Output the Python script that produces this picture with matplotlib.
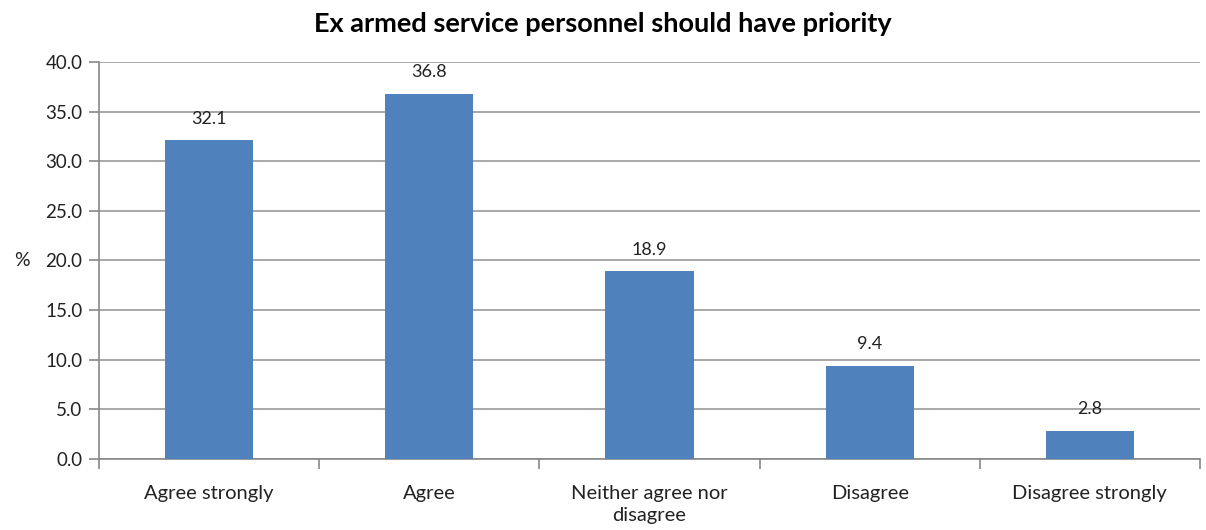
import matplotlib
matplotlib.use("Agg")
import matplotlib.pyplot as plt
import numpy as np

categories = ["Agree strongly", "Agree", "Neither agree nor\ndisagree", "Disagree", "Disagree strongly"]
percent = [32.1, 36.8, 18.9, 9.4, 2.8]
yticks = [0, 5, 10, 15, 20, 25, 30, 35, 40]

plt.rcParams['font.family'] = ['Lato', 'DejaVu Sans']

fig = plt.figure(figsize=(12.06, 5.30), dpi=100)
ax = fig.add_axes([0.0821, 0.134, 0.9129, 0.749])

x = np.arange(len(categories))
ax.bar(x, percent, width=0.4, color='#4F81BD', zorder=3)
for xi, v in zip(x, percent):
    ax.text(xi, v + 1.4, f"{v:.1f}", ha='center', va='bottom', fontsize=13, color='#222222', zorder=4)

ax.set_xlim(-0.5, len(categories) - 0.5)
ax.set_ylim(0, 40)
ax.set_yticks(yticks)
ax.set_yticklabels([f"{t:.1f}" for t in yticks], fontsize=13.5, color='#222222')
ax.yaxis.grid(True, color='#999999', linewidth=1.2, zorder=0)
ax.tick_params(axis='y', length=7, width=1.2, color='#888888', pad=5)

# category labels sit between the boundary ticks
ax.set_xticks(np.arange(-0.5, len(categories), 1.0))
ax.set_xticklabels([])
ax.set_xticks(x, minor=True)
ax.set_xticklabels(categories, minor=True, fontsize=14.5, color='#222222', va='top', linespacing=1.3)
ax.tick_params(axis='x', which='major', length=7, width=1.2, color='#888888')
ax.tick_params(axis='x', which='minor', length=0, pad=19)

for side in ['top', 'right']:
    ax.spines[side].set_visible(False)
for side in ['left', 'bottom']:
    ax.spines[side].set_color('#888888')
    ax.spines[side].set_linewidth(1.2)

ax.set_ylabel('%', rotation=0, fontsize=14, color='#222222', va='center')
ax.yaxis.set_label_coords(-0.07, 0.5)

fig.suptitle('Ex armed service personnel should have priority', fontsize=19.5, fontweight='bold', y=0.978)

fig.savefig('out.png', dpi=100)
